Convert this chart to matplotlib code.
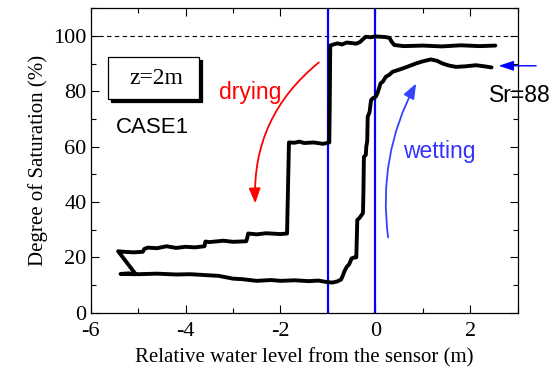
import matplotlib
matplotlib.use("Agg")
import matplotlib.pyplot as plt
import matplotlib.transforms as mtransforms
from matplotlib.patches import Rectangle
import numpy as np

# drying branch (from right to left)
x_dry = [2.53, 2.2, 1.8, 1.4, 1.0, 0.6, 0.4, 0.34, 0.30, 0.2, 0.0, -0.1, -0.2, -0.28, -0.32,
         -0.4, -0.6, -0.7, -0.8, -0.9, -0.95, -0.96, -0.97, -1.1, -1.3, -1.5, -1.6, -1.7,
         -1.82, -1.84, -1.86, -2.0, -2.3, -2.5, -2.68, -2.70, -2.72, -3.0, -3.2, -3.5, -3.58,
         -3.6, -3.8, -4.0, -4.2, -4.4, -4.6, -4.8, -4.87, -4.9, -5.1, -5.3, -5.42, -5.05]
y_dry = [96.5, 96.3, 96.6, 96.2, 96.5, 96.3, 96.7, 98.0, 99.3, 99.6, 99.8, 99.5, 99.7, 98.5, 97.8,
         97.2, 97.6, 96.9, 97.3, 96.8, 96.5, 75.0, 61.5, 61.0, 61.5, 61.3, 61.8, 61.4,
         61.5, 45.0, 28.6, 28.4, 28.7, 28.3, 28.6, 27.0, 25.8, 25.6, 26.0, 25.5, 25.7,
         24.0, 23.6, 23.8, 23.4, 24.0, 23.3, 23.5, 23.0, 22.0, 21.8, 22.0, 22.2, 13.9]

# wetting branch (from left to right)
x_wet = [-5.05, -5.37, -5.2, -5.0, -4.6, -4.2, -3.9, -3.6, -3.3, -3.0, -2.8, -2.5, -2.2, -2.0,
         -1.7, -1.4, -1.2, -1.0, -0.9, -0.8, -0.72, -0.68, -0.65, -0.6, -0.55, -0.5, -0.45,
         -0.4, -0.38, -0.34, -0.30, -0.26, -0.25, -0.24, -0.20, -0.19, -0.17, -0.16, -0.12,
         -0.09, -0.05, 0.01, 0.05, 0.11, 0.16, 0.22, 0.3, 0.36, 0.45, 0.57, 0.7, 0.85, 1.0,
         1.17, 1.3, 1.42, 1.55, 1.7, 1.9, 2.12, 2.3, 2.45]
y_wet = [13.9, 14.0, 14.2, 13.9, 14.1, 13.8, 13.9, 13.6, 13.3, 12.3, 12.1, 11.5, 11.8, 11.5,
         11.7, 11.4, 11.6, 11.0, 10.9, 11.3, 12.0, 13.6, 15.0, 16.6, 17.5, 19.6, 19.9,
         20.0, 33.5, 34.1, 35.0, 36.0, 44.0, 56.3, 57.0, 60.0, 62.0, 70.8, 72.5,
         76.8, 77.5, 78.0, 79.5, 82.8, 83.5, 85.2, 86.0, 87.0, 87.5, 88.2, 89.0, 90.0, 90.8,
         91.5, 91.0, 90.0, 89.3, 88.8, 89.0, 89.4, 89.0, 88.6]

sr_value = 88
serif = "Liberation Serif"
sans = "Liberation Sans"
plt.rcParams["axes.unicode_minus"] = False

fig = plt.figure(figsize=(5.56, 3.73), dpi=100)
ax = fig.add_axes([0.163, 0.1617, 0.768, 0.8163])

ax.axhline(100, color="k", lw=0.8, ls=(0, (4, 3)))
ax.axvline(-1, color="#0000ff", lw=1.6)
ax.axvline(0, color="#0000ff", lw=1.6)

ax.plot(x_dry, y_dry, color="k", lw=2.8, solid_capstyle="round", solid_joinstyle="round")
ax.plot(x_wet, y_wet, color="k", lw=2.8, solid_capstyle="round", solid_joinstyle="round")

ax.set_xlim(-6, 3)
ax.set_ylim(0, 110)
ax.set_xticks([-6, -4, -2, 0, 2])
ax.set_xticks(np.arange(-6, 3.1, 1), minor=True)
ax.set_yticks([0, 20, 40, 60, 80, 100])
ax.set_yticks(np.arange(0, 111, 10), minor=True)
ax.tick_params(which="both", direction="in", top=True, right=True, width=0.8)
ax.tick_params(which="major", length=6, labelsize=16, pad=3)
ax.tick_params(axis="x", which="major", pad=7)
ax.tick_params(which="minor", length=3.5)
for lab in ax.get_xticklabels() + ax.get_yticklabels():
    lab.set_fontfamily(serif)
for s in ax.spines.values():
    s.set_linewidth(0.9)

ax.set_xlabel("Relative water level from the sensor (m)", fontsize=15, family=serif, labelpad=5)
ax.set_ylabel("Degree of Saturation (%)", fontsize=15, family=serif, labelpad=4)

# z=2m box with shadow
shadow_tr = ax.transAxes + mtransforms.ScaledTranslation(0.03, -0.03, fig.dpi_scale_trans)
ax.add_patch(Rectangle((0.0405, 0.702), 0.213, 0.137, transform=shadow_tr, facecolor="k",
                       edgecolor="k", lw=0.9, zorder=4))
ax.add_patch(Rectangle((0.0405, 0.702), 0.213, 0.137, transform=ax.transAxes, facecolor="white",
                       edgecolor="k", lw=0.9, zorder=4.5))
ax.text(-4.61, 84.7, "z=2m", family=serif, fontsize=17, ha="center", va="center", zorder=5)
ax.text(-4.69, 67.0, "CASE1", family=sans, fontsize=16, ha="center", va="center")

ax.text(-2.64, 79.4, "drying", family=sans, fontsize=16.5, color="red", ha="center", va="center")
ax.text(1.35, 58.1, "wetting", family=sans, fontsize=16.5, color="#3333ff", ha="center", va="center")
ax.text(3.04, 78.3, f"Sr={sr_value}", family=sans, fontsize=16.5, color="k", ha="center", va="center")

ax.annotate("", xy=(-2.53, 39.5), xytext=(-1.19, 90.4),
            arrowprops=dict(arrowstyle="-|>,head_length=0.9,head_width=0.35", color="red", lw=1.3,
                            connectionstyle="arc3,rad=0.25", shrinkA=0, shrinkB=0))
ax.annotate("", xy=(0.86, 82.8), xytext=(0.27, 27.2),
            arrowprops=dict(arrowstyle="-|>,head_length=0.9,head_width=0.35", color="#3344ff", lw=1.3,
                            connectionstyle="arc3,rad=-0.16", shrinkA=0, shrinkB=0))
ax.annotate("", xy=(2.60, sr_value + 1.2), xytext=(3.39, sr_value + 1.2),
            arrowprops=dict(arrowstyle="-|>,head_length=0.9,head_width=0.3", color="#0000ff", lw=1.0,
                            shrinkA=0, shrinkB=0), annotation_clip=False)

fig.savefig("out.png", dpi=100)
